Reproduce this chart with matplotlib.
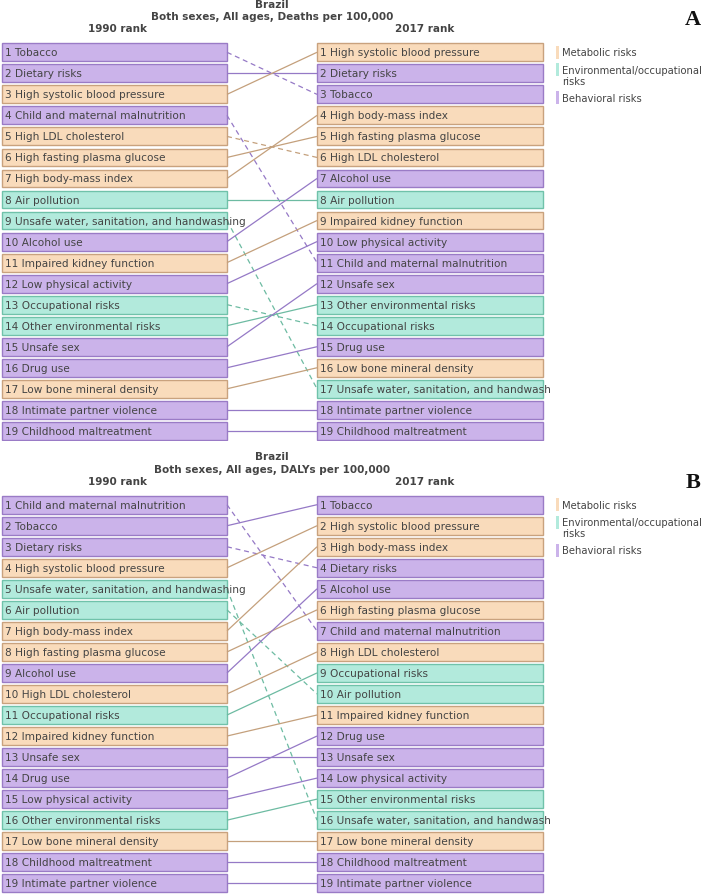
import matplotlib
matplotlib.use("Agg")
import matplotlib.pyplot as plt
from matplotlib.patches import Rectangle

# categorias de risco
M, E, B = "metab", "env", "behav"

# painel A - mortes
deaths_1990 = ["Tobacco", "Dietary risks", "High systolic blood pressure",
               "Child and maternal malnutrition", "High LDL cholesterol",
               "High fasting plasma glucose", "High body-mass index", "Air pollution",
               "Unsafe water, sanitation, and handwashing", "Alcohol use",
               "Impaired kidney function", "Low physical activity", "Occupational risks",
               "Other environmental risks", "Unsafe sex", "Drug use",
               "Low bone mineral density", "Intimate partner violence",
               "Childhood maltreatment"]
deaths_2017 = ["High systolic blood pressure", "Dietary risks", "Tobacco",
               "High body-mass index", "High fasting plasma glucose",
               "High LDL cholesterol", "Alcohol use", "Air pollution",
               "Impaired kidney function", "Low physical activity",
               "Child and maternal malnutrition", "Unsafe sex",
               "Other environmental risks", "Occupational risks", "Drug use",
               "Low bone mineral density", "Unsafe water, sanitation, and handwashing",
               "Intimate partner violence", "Childhood maltreatment"]

# painel B - DALYs
dalys_1990 = ["Child and maternal malnutrition", "Tobacco", "Dietary risks",
              "High systolic blood pressure", "Unsafe water, sanitation, and handwashing",
              "Air pollution", "High body-mass index", "High fasting plasma glucose",
              "Alcohol use", "High LDL cholesterol", "Occupational risks",
              "Impaired kidney function", "Unsafe sex", "Drug use",
              "Low physical activity", "Other environmental risks",
              "Low bone mineral density", "Childhood maltreatment",
              "Intimate partner violence"]
dalys_2017 = ["Tobacco", "High systolic blood pressure", "High body-mass index",
              "Dietary risks", "Alcohol use", "High fasting plasma glucose",
              "Child and maternal malnutrition", "High LDL cholesterol",
              "Occupational risks", "Air pollution", "Impaired kidney function",
              "Drug use", "Unsafe sex", "Low physical activity",
              "Other environmental risks", "Unsafe water, sanitation, and handwashing",
              "Low bone mineral density", "Childhood maltreatment",
              "Intimate partner violence"]

risk_type = {
    "Tobacco": B, "Dietary risks": B, "Child and maternal malnutrition": B,
    "Alcohol use": B, "Low physical activity": B, "Unsafe sex": B, "Drug use": B,
    "Intimate partner violence": B, "Childhood maltreatment": B,
    "High systolic blood pressure": M, "High LDL cholesterol": M,
    "High fasting plasma glucose": M, "High body-mass index": M,
    "Impaired kidney function": M, "Low bone mineral density": M,
    "Air pollution": E, "Unsafe water, sanitation, and handwashing": E,
    "Occupational risks": E, "Other environmental risks": E,
}

legend_labels = ["Metabolic risks", "Environmental/occupational\nrisks", "Behavioral risks"]

fill = {M: "#f9dbbb", E: "#b2eadc", B: "#cbb3ea"}
edge = {M: "#c9a27e", E: "#70c2aa", B: "#9a7bc6"}
linec = {M: "#c4a07c", E: "#6dbba2", B: "#9579c6"}
txt = "#444444"
fs = 7.6

W, H = 709, 895
fig = plt.figure(figsize=(W / 100, H / 100), dpi=100)


def panel(top_px, left, right, subtitle, letter):
    # eixo em pixels na horizontal, rank na vertical
    row = 21.03
    top = top_px - row / 2
    ax = fig.add_axes([0, 1 - (top + 19 * row) / H, 550 / W, 19 * row / H])
    ax.set_xlim(0, 550)
    ax.set_ylim(19.5, 0.5)
    ax.axis("off")
    xl0, xl1, xr0, xr1 = 1.5, 227, 317, 543
    bh = 0.85
    for i, name in enumerate(left):
        r = i + 1
        t = risk_type[name]
        ax.add_patch(Rectangle((xl0, r - bh / 2), xl1 - xl0, bh, facecolor=fill[t],
                               edgecolor=edge[t], lw=1))
        ax.text(xl0 + 3.5, r, f"{r} {name}", va="center", ha="left", fontsize=fs,
                color=txt, clip_on=True)
        r2 = right.index(name) + 1
        ax.plot([xl1, xr0], [r, r2], color=linec[t], lw=0.9,
                ls=(0, (4, 3)) if r2 > r else "-", solid_capstyle="butt")
    for i, name in enumerate(right):
        r = i + 1
        t = risk_type[name]
        ax.add_patch(Rectangle((xr0, r - bh / 2), xr1 - xr0, bh, facecolor=fill[t],
                               edgecolor=edge[t], lw=1))
        ax.text(xr0 + 3.5, r, f"{r} {name}", va="center", ha="left", fontsize=fs,
                color=txt, clip_on=True)

    # titulos
    ax.text(272, -1.3, "Brazil", ha="center", va="center", fontsize=7.5,
            fontweight="bold", color=txt, clip_on=False)
    ax.text(272, -0.71, subtitle, ha="center", va="center", fontsize=7.5,
            fontweight="bold", color=txt, clip_on=False)
    ax.text(118, -0.14, "1990 rank", ha="center", va="center", fontsize=7.5,
            fontweight="bold", color=txt, clip_on=False)
    ax.text(425, -0.14, "2017 rank", ha="center", va="center", fontsize=7.5,
            fontweight="bold", color=txt, clip_on=False)

    # legenda
    for (t, lab, ytxt, ypatch) in zip([M, E, B], legend_labels,
                                      [1.0, 2.1, 3.17], [1.0, 1.83, 3.17]):
        p = Rectangle((555.5, ypatch - 0.31), 3, 0.62, facecolor=fill[t],
                      edgecolor="none", clip_on=False)
        ax.add_patch(p)
        ax.text(562, ytxt, lab, ha="left", va="center", fontsize=7.2, color=txt,
                linespacing=1.1, clip_on=False)

    ax.text(693, -0.57 if letter == "A" else -0.08, letter, ha="center", va="center",
            fontsize=16, fontweight="bold", family="Liberation Serif", color="#111111",
            clip_on=False)


panel(53.3, deaths_1990, deaths_2017, "Both sexes, All ages, Deaths per 100,000", "A")
panel(505.7, dalys_1990, dalys_2017, "Both sexes, All ages, DALYs per 100,000", "B")

fig.savefig("out.png", dpi=100)
